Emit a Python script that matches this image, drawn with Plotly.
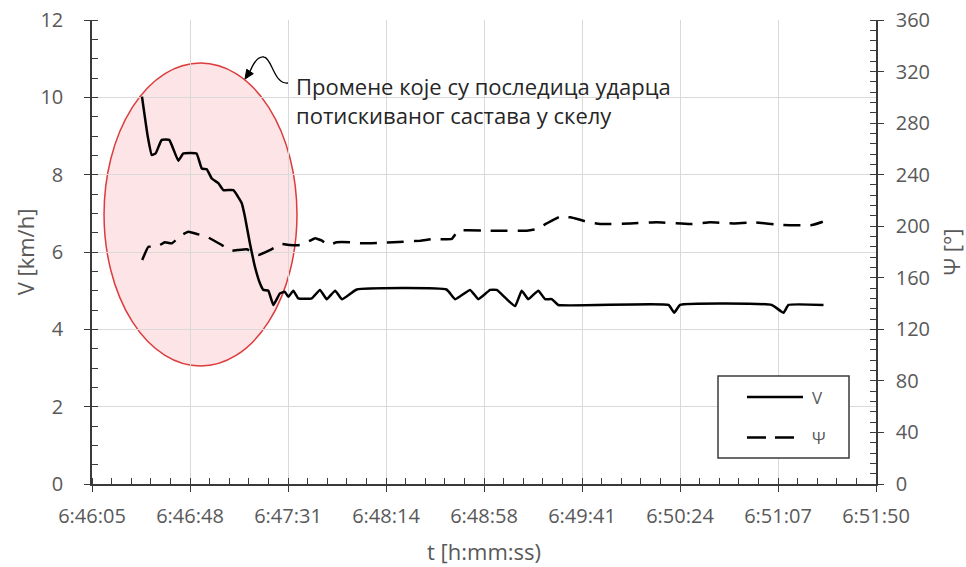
import plotly.graph_objects as go

# Time is measured in seconds after 6:46:05
t_speed = [22, 24.5, 26.3, 28, 30.7, 34, 38, 40.2, 46, 48.3, 50.5, 52.7, 55.6, 57.8,
           62.2, 65.9, 67.3, 69.5, 71.7, 73.9, 75.4, 77.6, 79.8, 82.7, 84.9, 86.4,
           88.6, 90.8, 96.7, 100.3, 103.3, 107, 110, 116.5, 156, 159.8, 166.4, 170,
           175.2, 178.1, 182.5, 186.2, 189.1, 192, 196.4, 199.4, 202.3, 205.2,
           253.7, 256.2, 258.8, 299.1, 304.3, 306.5, 321.9]
speed = [10.02, 9.0, 8.51, 8.55, 8.9, 8.9, 8.36, 8.55, 8.55, 8.16, 8.14, 7.9, 7.78, 7.6,
         7.6, 7.26, 6.91, 6.22, 5.62, 5.19, 5.02, 5.0, 4.63, 4.93, 4.97, 4.84,
         5.0, 4.8, 4.8, 5.02, 4.78, 5.0, 4.78, 5.03, 5.03, 4.78, 5.02, 4.78,
         5.02, 5.02, 4.78, 4.6, 5.0, 4.78, 5.0, 4.78, 4.78, 4.63,
         4.63, 4.43, 4.63, 4.63, 4.43, 4.63, 4.63]

t_heading = [22.1, 24.8, 27, 29.9, 32, 35.1, 39.5, 42.4, 46.1, 50.5, 57.1, 61.5, 64,
             68.1, 73.2, 78.3, 83.5, 87.1, 91.5, 96, 98.2, 101, 104, 107.7, 113.6,
             118, 132.6, 144.4, 150.2, 158.3, 161.2, 176.6, 191.3, 195.7, 200.1,
             206, 210.4, 214, 217.7, 223.6, 236.8, 248.5, 263.2, 272, 282.3, 291,
             304.3, 316.8, 321.6]
heading = [173.8, 184.1, 184, 185.4, 187.5, 186.7, 193.2, 195.7, 194, 191.9, 185.4,
           181, 181.5, 182.1, 177.7, 181.5, 186.2, 185.4, 185.4, 188.8, 190.6, 189,
           185.4, 187.5, 187.5, 186.7, 187.5, 188.8, 190.1, 190.1, 196.5, 196.5,
           196.5, 197.8, 202.2, 207.4, 206.9, 205.4, 203.5, 201.7, 202.2, 203,
           201.7, 203, 202.2, 203, 200.9, 200.9, 203.5]

x_tick_labels = ["6:46:05", "6:46:48", "6:47:31", "6:48:14", "6:48:58",
                 "6:49:41", "6:50:24", "6:51:07", "6:51:50"]
x_span = 345.0                      # 6:46:05 .. 6:51:50
x_step = x_span / 8
x_tick_vals = [i * x_step for i in range(9)]

W, H = 966, 567
L, R, T, B = 92, 90, 20, 83
AXIS = "#3a3a3a"
GRID = "#d9d9d9"
LABEL = "#595959"
FONT = "Open Sans"
V_LINE = dict(color="black", width=2.5)
PSI_DASH = "17px,10px"


def paper(px, py):
    """Pixel position on the page -> paper coordinates."""
    return ((px - L) / (W - L - R), (H - B - py) / (H - T - B))


def path_from_px(cmds):
    out = []
    for c in cmds:
        if isinstance(c, str):
            out.append(c)
        else:
            x, y = paper(*c)
            out.append(f"{x:.5f},{y:.5f}")
    return " ".join(out)


fig = go.Figure()

fig.add_trace(go.Scatter(
    x=t_speed, y=speed, name="V", mode="lines",
    line=dict(**V_LINE, shape="spline", smoothing=0.35), yaxis="y"))
fig.add_trace(go.Scatter(
    x=t_heading, y=heading, name="Ψ", mode="lines",
    line=dict(**V_LINE, dash=PSI_DASH, shape="spline", smoothing=0.35), yaxis="y2"))

# empty traces that carry the inner half of the crossing major ticks
for xa, ya in (("x2", "y"), ("x", "y3"), ("x", "y4")):
    fig.add_trace(go.Scatter(x=[None], y=[None], xaxis=xa, yaxis=ya,
                             showlegend=False, hoverinfo="skip"))

tick_font = dict(family=FONT, size=20, color=LABEL)
title_font = dict(family=FONT, size=22, color=LABEL)
major = dict(ticklen=6, tickwidth=1.3, tickcolor=AXIS)
minor_style = dict(ticks="inside", ticklen=6, tickwidth=1.1, tickcolor=AXIS, showgrid=False)
overlay = dict(ticks="inside", showticklabels=False, showgrid=False, showline=False,
               zeroline=False, automargin=False, **major)

fig.update_layout(
    width=W, height=H,
    margin=dict(l=L, r=R, t=T, b=B, autoexpand=False),
    paper_bgcolor="white", plot_bgcolor="white",
    font=dict(family=FONT, color=LABEL, size=20),
    showlegend=False,
    xaxis=dict(
        range=[0, x_span], tickmode="array", tickvals=x_tick_vals, ticktext=x_tick_labels,
        showgrid=True, gridcolor=GRID, gridwidth=1, zeroline=False,
        showline=True, linecolor=AXIS, linewidth=1.5, automargin=False,
        ticks="outside", **major,
        minor=dict(tick0=0, dtick=x_step / 5, **minor_style),
        tickfont=tick_font, ticklabelstandoff=7,
        title=dict(text="t [h:mm:ss)", font=title_font, standoff=17),
    ),
    xaxis2=dict(range=[0, x_span], overlaying="x", anchor="y", side="bottom",
                tickmode="array", tickvals=x_tick_vals, **overlay),
    yaxis=dict(
        range=[0, 12], dtick=2, tick0=0,
        showgrid=True, gridcolor=GRID, gridwidth=1, zeroline=False,
        showline=True, linecolor=AXIS, linewidth=1.5, automargin=False,
        ticks="outside", **major,
        minor=dict(tick0=0, dtick=0.5, **minor_style),
        tickfont=tick_font, ticklabelstandoff=17,
        title=dict(text="V [km/h]", font=title_font, standoff=0),
    ),
    yaxis2=dict(
        range=[0, 360], dtick=40, tick0=0, overlaying="y", side="right", anchor="x",
        showgrid=False, zeroline=False,
        showline=True, linecolor=AXIS, linewidth=1.5, automargin=False,
        ticks="outside", **major,
        minor=dict(tick0=0, dtick=8, **minor_style),
        tickfont=tick_font, ticklabelstandoff=8,
        title=dict(text="Ψ [°]", font=title_font, standoff=17),
    ),
    yaxis3=dict(range=[0, 12], dtick=2, tick0=0, overlaying="y", side="left",
                anchor="x", **overlay),
    yaxis4=dict(range=[0, 360], dtick=40, tick0=0, overlaying="y", side="right",
                anchor="x", **overlay),
)

# highlighted region around the collision
fig.add_shape(type="circle", xref="x", yref="y", x0=5.3, x1=90.2, y0=3.05, y1=10.89,
              line=dict(color="#dc3c3c", width=1.5),
              fillcolor="rgba(245,120,130,0.2)", layer="below")

# curved pointer from the note to the ellipse
fig.add_shape(type="path", xref="paper", yref="paper",
              path=path_from_px(["M", (288, 83), "C", (274, 85), (272, 58), (264, 57),
                                 "C", (258, 56), (253, 64), (250, 71.5)]),
              line=dict(color="black", width=1.3))
fig.add_shape(type="path", xref="paper", yref="paper",
              path=path_from_px(["M", (245, 79), "L", (253.3, 73.7), "L", (246.7, 69.3), "Z"]),
              line=dict(color="black", width=1), fillcolor="black")

nx, ny = paper(294, 100.5)
fig.add_annotation(
    xref="paper", yref="paper", x=nx, y=ny, xanchor="left", yanchor="middle",
    text="Промене које су последица ударца<br>потискиваног састава у скелу",
    align="left", showarrow=False,
    font=dict(family=FONT, size=22, color="#262626"))

# legend box
x0, y0 = paper(718, 458)
x1, y1 = paper(849, 376)
fig.add_shape(type="rect", xref="paper", yref="paper", x0=x0, y0=y0, x1=x1, y1=y1,
              line=dict(color=AXIS, width=1.5), fillcolor="white", layer="above")
for name, py, dash, x_end in (("V", 397, "solid", 803), ("Ψ", 437.5, "19px,9px", 795)):
    lx0, ly = paper(747, py)
    lx1, _ = paper(x_end, py)
    fig.add_shape(type="line", xref="paper", yref="paper", x0=lx0, x1=lx1, y0=ly, y1=ly,
                  line=dict(**V_LINE, dash=dash), layer="above")
    tx, _ = paper(810, py)
    fig.add_annotation(xref="paper", yref="paper", x=tx, y=ly, xanchor="left",
                       yanchor="middle", text=name, showarrow=False,
                       font=dict(family=FONT, size=17, color=LABEL))

fig.write_html("out.html")
